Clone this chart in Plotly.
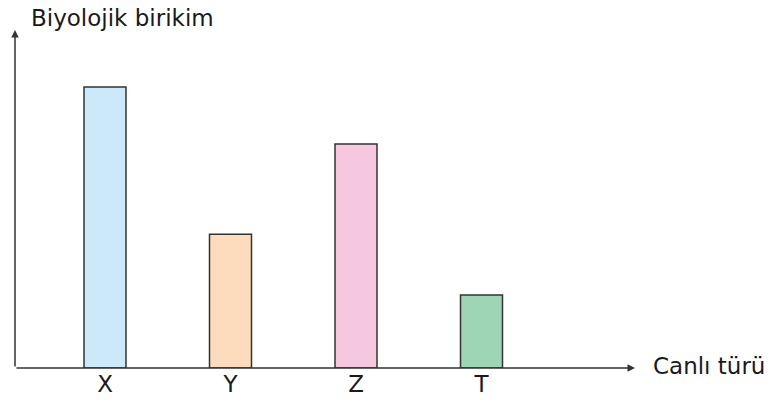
import plotly.graph_objects as go

categories = ["X", "Y", "Z", "T"]
values = [8.31, 3.96, 6.63, 2.16]
colors = ["#cce9fa", "#fddcbe", "#f6c8e0", "#9dd5b5"]

W, H = 774, 402
L, T = 15, 30
plot_w, plot_h = 625, 338
R = W - L - plot_w
B = H - T - plot_h
unit = 125.5
x0 = -(105 - L) / unit

fig = go.Figure()
fig.add_trace(go.Bar(
    x=list(range(len(categories))), y=values,
    width=42 / unit,
    marker=dict(color=colors, line=dict(color="#333333", width=1.5)),
))

font_family = "DejaVu Sans, sans-serif"
txt = "#1a1a1a"
fig.update_layout(
    width=W, height=H,
    margin=dict(l=L, r=R, t=T, b=B, autoexpand=False),
    paper_bgcolor="white", plot_bgcolor="white",
    showlegend=False,
    xaxis=dict(range=[x0, x0 + plot_w / unit], tickvals=list(range(len(categories))),
               ticktext=categories, showgrid=False, zeroline=False, showline=False,
               automargin=False, ticks="", ticklabelstandoff=0,
               tickfont=dict(family=font_family, size=23, color=txt)),
    yaxis=dict(range=[0, 10], showgrid=False, zeroline=False, showline=False,
               automargin=False, showticklabels=False, ticks=""),
    annotations=[
        dict(xref="paper", yref="paper", x=0, y=1, ax=0, ay=plot_h, axref="pixel", ayref="pixel",
             showarrow=True, arrowhead=2, arrowsize=1, arrowwidth=1.5, arrowcolor="#333", text=""),
        dict(xref="paper", yref="paper", x=(635 - L) / plot_w, y=0, ax=-(635 - L), ay=0,
             axref="pixel", ayref="pixel",
             showarrow=True, arrowhead=2, arrowsize=1, arrowwidth=1.5, arrowcolor="#333", text=""),
        dict(xref="paper", yref="paper", x=(29 - L) / plot_w, y=1, yshift=12, xanchor="left", yanchor="middle",
             showarrow=False, text="Biyolojik birikim",
             font=dict(family=font_family, size=23, color=txt)),
        dict(xref="paper", yref="paper", x=(651 - L) / plot_w, y=0, xanchor="left", yanchor="middle",
             yshift=2, showarrow=False, text="Canlı türü",
             font=dict(family=font_family, size=23, color=txt)),
    ],
)

fig.write_html("out.html", config={"displayModeBar": False},
               post_script="document.body.style.margin='0';")
